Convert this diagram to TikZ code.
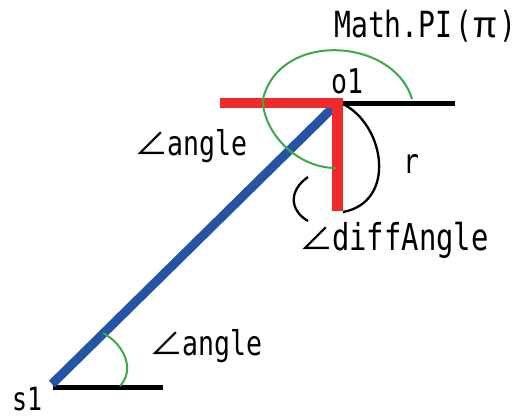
\documentclass[tikz,border=0pt]{standalone}
\usepackage{fontspec}
\newfontfamily\gm[FakeStretch=0.78]{DejaVu Sans Mono}
\newfontfamily\cjk{Noto Sans CJK JP}
\newcommand\angsym{\makebox[33pt][l]{\cjk\fontsize{34}{34}\selectfont ∠}}
\definecolor{myred}{HTML}{EE2A2A}
\definecolor{myblue}{HTML}{2654A4}
\definecolor{mygreen}{HTML}{3DA946}
\begin{document}
\begin{tikzpicture}[x=1pt,y=-1pt,
  lbl/.style={inner sep=0pt, anchor=base west, font=\gm\fontsize{34}{34}\selectfont},
  redbar/.style={draw=myred, line width=10.5pt},
  blackbar/.style={draw=black, line width=5pt},
  bluebar/.style={draw=myblue, line width=9pt},
  greenarc/.style={draw=mygreen, line width=2pt},
  blackarc/.style={draw=black, line width=2.3pt}]
\useasboundingbox (0,0) rectangle (525,416);
% key points
\coordinate (o1) at (337.5,103);
\coordinate (s1) at (52,384);
\coordinate (redL) at (220,103);
\coordinate (redB) at (337.5,211);
\coordinate (redT) at (337.5,98);
\coordinate (blkR) at (455,103);
\coordinate (blkL) at (343,103);
\coordinate (sR) at (163,387);
\coordinate (sL) at (53,387);
% lines
\draw[blackbar] (blkL) -- (blkR);
\draw[blackbar] (sL) -- (sR);
\draw[bluebar] (s1) -- (o1);
\draw[redbar] (redL) -- (343,103);
\draw[redbar] (redT) -- (redB);
% arcs
\coordinate (gA) at (263,99);
\coordinate (gB) at (412,99);
\coordinate (gC) at (336,168);
\draw[greenarc] (gA) .. controls (280,30) and (394,38) .. (gB);
\draw[greenarc] (gA) .. controls (262,130) and (295,168) .. (gC);
\coordinate (rA) at (343,104);
\coordinate (rB) at (343,212);
\draw[blackarc] (rA) .. controls (385,125) and (397,202) .. (rB);
\coordinate (dA) at (308,177);
\coordinate (dB) at (308,221);
\draw[blackarc] (dA) .. controls (289,190) and (289,210) .. (dB);
\coordinate (sA) at (103,333);
\coordinate (sB) at (120,386);
\draw[greenarc] (sA) .. controls (125,345) and (135,370) .. (sB);
% labels
\node[lbl, font=\gm\fontsize{36}{36}\selectfont] (pi) at (334,37) {Math.PI\makebox[22pt][c]{(}\makebox[22pt][c]{\cjk π}\makebox[22pt][c]{)}};
\node[lbl] (o1l) at (331,93) {o1};
\node[lbl] (ang1) at (134,155) {\angsym angle};
\node[lbl] (rl) at (403,173) {r};
\node[lbl, font=\gm\fontsize{37}{37}\selectfont] (diff) at (299,250) {\angsym diffAngle};
\node[lbl] (ang2) at (149,355) {\angsym angle};
\node[lbl, font=\gm\fontsize{32}{32}\selectfont] (s1l) at (12,410) {s1};
\end{tikzpicture}
\end{document}
